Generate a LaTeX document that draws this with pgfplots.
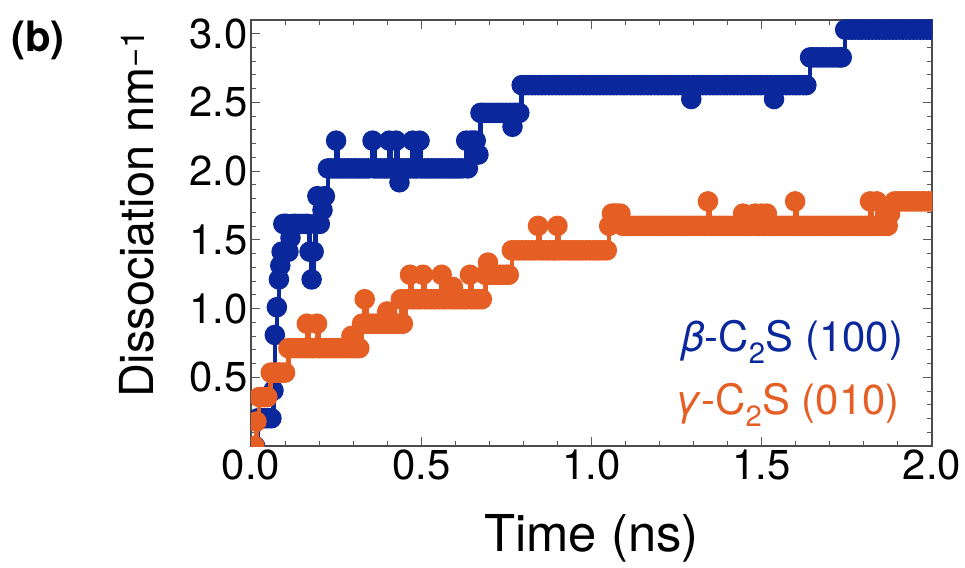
\documentclass[border=0pt]{standalone}
\usepackage{fontspec}
\setmainfont{TeX Gyre Heros}
\usepackage{pgfplots}
\pgfplotsset{compat=1.18}
\usepackage{pgfplotstable}
\definecolor{cblue}{RGB}{10,40,155}
\definecolor{corange}{RGB}{229,95,37}

\pgfplotstableread{
t v
0.012 0
0.020 0.202
0.030 0.202
0.040 0.202
0.050 0.202
0.060 0.202
0.066 0.404
0.070 0.808
0.076 1.010
0.082 1.212
0.086 1.313
0.090 1.414
0.095 1.616
0.100 1.616
0.105 1.616
0.110 1.414
0.116 1.515
0.122 1.616
0.130 1.616
0.140 1.616
0.150 1.616
0.160 1.616
0.166 1.616
0.172 1.414
0.178 1.212
0.184 1.414
0.190 1.616
0.195 1.818
0.202 1.616
0.210 1.717
0.217 1.818
0.226 2.020
0.235 2.020
0.245 2.020
0.250 2.222
0.255 2.020
0.265 2.020
0.275 2.020
0.285 2.020
0.295 2.020
0.305 2.020
0.315 2.020
0.325 2.020
0.335 2.020
0.345 2.020
0.357 2.222
0.362 2.020
0.372 2.020
0.382 2.020
0.392 2.020
0.400 2.020
0.406 2.222
0.411 2.020
0.418 2.020
0.426 2.222
0.431 2.020
0.436 1.919
0.441 2.020
0.450 2.020
0.460 2.020
0.468 2.020
0.475 2.222
0.480 2.020
0.488 2.020
0.495 2.222
0.500 2.020
0.510 2.020
0.520 2.020
0.530 2.020
0.540 2.020
0.550 2.020
0.560 2.020
0.570 2.020
0.580 2.020
0.590 2.020
0.600 2.020
0.610 2.020
0.620 2.020
0.632 2.222
0.637 2.020
0.645 2.222
0.652 2.222
0.660 2.222
0.668 2.121
0.674 2.424
0.680 2.424
0.690 2.424
0.700 2.424
0.710 2.424
0.720 2.424
0.730 2.424
0.740 2.424
0.750 2.424
0.760 2.424
0.768 2.323
0.773 2.424
0.780 2.424
0.788 2.424
0.795 2.626
0.805 2.626
0.815 2.626
0.825 2.626
0.835 2.626
0.845 2.626
0.855 2.626
0.865 2.626
0.875 2.626
0.885 2.626
0.895 2.626
0.905 2.626
0.915 2.626
0.925 2.626
0.935 2.626
0.945 2.626
0.955 2.626
0.965 2.626
0.975 2.626
0.985 2.626
0.995 2.626
1.005 2.626
1.015 2.626
1.025 2.626
1.035 2.626
1.045 2.626
1.055 2.626
1.065 2.626
1.075 2.626
1.085 2.626
1.095 2.626
1.105 2.626
1.115 2.626
1.125 2.626
1.135 2.626
1.145 2.626
1.155 2.626
1.165 2.626
1.175 2.626
1.185 2.626
1.195 2.626
1.205 2.626
1.215 2.626
1.225 2.626
1.235 2.626
1.245 2.626
1.255 2.626
1.265 2.626
1.275 2.626
1.285 2.626
1.293 2.525
1.298 2.626
1.308 2.626
1.318 2.626
1.328 2.626
1.338 2.626
1.348 2.626
1.358 2.626
1.368 2.626
1.378 2.626
1.388 2.626
1.398 2.626
1.408 2.626
1.418 2.626
1.428 2.626
1.438 2.626
1.448 2.626
1.458 2.626
1.468 2.626
1.478 2.626
1.488 2.626
1.498 2.626
1.508 2.626
1.518 2.626
1.528 2.626
1.536 2.525
1.541 2.626
1.551 2.626
1.561 2.626
1.571 2.626
1.581 2.626
1.591 2.626
1.601 2.626
1.611 2.626
1.621 2.626
1.631 2.626
1.642 2.828
1.650 2.828
1.660 2.828
1.670 2.828
1.680 2.828
1.690 2.828
1.700 2.828
1.710 2.828
1.720 2.828
1.730 2.828
1.735 2.828
1.745 3.030
1.755 3.030
1.765 3.030
1.775 3.030
1.785 3.030
1.795 3.030
1.805 3.030
1.815 3.030
1.825 3.030
1.835 3.030
1.845 3.030
1.855 3.030
1.865 3.030
1.875 3.030
1.885 3.030
1.895 3.030
1.905 3.030
1.915 3.030
1.925 3.030
1.935 3.030
1.945 3.030
1.955 3.030
1.965 3.030
1.975 3.030
1.985 3.030
1.995 3.030
2.000 3.030
}\blueT

\pgfplotstableread{
t v
0.010 0
0.016 0.178
0.024 0.356
0.032 0.356
0.040 0.356
0.048 0.356
0.058 0.534
0.066 0.534
0.074 0.534
0.082 0.534
0.090 0.534
0.100 0.534
0.110 0.712
0.118 0.712
0.128 0.712
0.138 0.712
0.148 0.712
0.158 0.712
0.164 0.890
0.169 0.712
0.178 0.712
0.186 0.712
0.194 0.890
0.199 0.712
0.209 0.712
0.219 0.712
0.229 0.712
0.239 0.712
0.249 0.712
0.259 0.712
0.269 0.712
0.279 0.712
0.289 0.712
0.295 0.801
0.300 0.712
0.310 0.712
0.318 0.712
0.326 0.890
0.334 1.068
0.339 0.890
0.348 0.890
0.358 0.890
0.368 0.890
0.378 0.890
0.388 0.890
0.394 0.890
0.400 0.979
0.405 0.890
0.414 0.890
0.423 0.890
0.432 0.890
0.440 1.068
0.446 0.890
0.455 1.068
0.462 1.068
0.467 1.246
0.472 1.068
0.480 1.068
0.490 1.068
0.498 1.068
0.505 1.246
0.510 1.068
0.520 1.068
0.530 1.068
0.540 1.068
0.552 1.068
0.560 1.246
0.565 1.068
0.575 1.068
0.585 1.068
0.593 1.157
0.598 1.068
0.608 1.068
0.618 1.068
0.628 1.068
0.636 1.068
0.643 1.246
0.648 1.068
0.658 1.068
0.668 1.068
0.678 1.068
0.688 1.246
0.696 1.335
0.701 1.246
0.711 1.246
0.721 1.246
0.731 1.246
0.741 1.246
0.751 1.246
0.757 1.246
0.766 1.424
0.776 1.424
0.786 1.424
0.796 1.424
0.806 1.424
0.816 1.424
0.826 1.424
0.836 1.424
0.843 1.602
0.848 1.424
0.858 1.424
0.868 1.424
0.878 1.424
0.888 1.424
0.894 1.424
0.900 1.602
0.905 1.424
0.915 1.424
0.925 1.424
0.935 1.424
0.945 1.424
0.955 1.424
0.965 1.424
0.975 1.424
0.985 1.424
0.995 1.424
1.005 1.424
1.015 1.424
1.025 1.424
1.035 1.424
1.045 1.424
1.052 1.602
1.060 1.691
1.068 1.691
1.076 1.691
1.085 1.691
1.092 1.602
1.102 1.602
1.112 1.602
1.122 1.602
1.132 1.602
1.142 1.602
1.152 1.602
1.162 1.602
1.172 1.602
1.182 1.602
1.192 1.602
1.202 1.602
1.212 1.602
1.222 1.602
1.232 1.602
1.242 1.602
1.252 1.602
1.262 1.602
1.272 1.602
1.282 1.602
1.292 1.602
1.302 1.602
1.312 1.602
1.322 1.602
1.332 1.602
1.342 1.780
1.347 1.602
1.357 1.602
1.367 1.602
1.377 1.602
1.387 1.602
1.397 1.602
1.407 1.602
1.417 1.602
1.427 1.602
1.437 1.602
1.445 1.691
1.450 1.602
1.460 1.602
1.470 1.602
1.480 1.691
1.485 1.602
1.492 1.602
1.500 1.691
1.505 1.602
1.510 1.602
1.515 1.691
1.520 1.602
1.530 1.602
1.540 1.602
1.550 1.602
1.560 1.602
1.570 1.602
1.580 1.602
1.590 1.602
1.598 1.780
1.603 1.602
1.613 1.602
1.623 1.602
1.633 1.602
1.643 1.602
1.653 1.602
1.663 1.602
1.673 1.602
1.683 1.602
1.693 1.602
1.703 1.602
1.713 1.602
1.723 1.602
1.733 1.602
1.743 1.602
1.753 1.602
1.763 1.602
1.773 1.602
1.783 1.602
1.793 1.602
1.803 1.602
1.810 1.602
1.818 1.780
1.823 1.602
1.830 1.602
1.838 1.780
1.843 1.602
1.852 1.602
1.862 1.602
1.870 1.602
1.877 1.691
1.890 1.780
1.900 1.780
1.910 1.780
1.920 1.780
1.930 1.780
1.940 1.780
1.950 1.780
1.960 1.780
1.970 1.780
1.980 1.780
1.990 1.780
2.000 1.780
}\orangeT

\begin{document}
\begin{tikzpicture}
\begin{axis}[
  name=ax,
  scale only axis,
  width=681bp, height=426bp,
  xmin=0, xmax=2, ymin=0, ymax=3.1,
  xtick={0,0.5,1,1.5,2},
  ytick={0.5,1,1.5,2,2.5,3},
  minor xtick={0.1,0.2,0.3,0.4,0.6,0.7,0.8,0.9,1.1,1.2,1.3,1.4,1.6,1.7,1.8,1.9},
  minor ytick={0.1,0.2,0.3,0.4,0.6,0.7,0.8,0.9,1.1,1.2,1.3,1.4,1.6,1.7,1.8,1.9,2.1,2.2,2.3,2.4,2.6,2.7,2.8,2.9},
  tick align=inside,
  major tick length=9bp, minor tick length=5bp,
  every tick/.style={black!65, line width=1bp},
  axis line style={black!70, line width=1.2bp},
  tick label style={font=\fontsize{42}{48}\selectfont},
  xticklabel style={/pgf/number format/.cd, fixed, fixed zerofill, precision=1, assume math mode=true},
  yticklabel style={/pgf/number format/.cd, fixed, fixed zerofill, precision=1, assume math mode=true},
  xlabel={Time (ns)},
  ylabel={Dissociation nm\textsuperscript{−1}},
  xlabel style={font=\fontsize{51}{60}\selectfont, at={(axis description cs:0.5,-0.216)}, anchor=center},
  ylabel style={font=\fontsize{47}{56}\selectfont, at={(axis description cs:-0.167,0.545)}, anchor=center},
  clip marker paths=true,
]
\addplot[const plot, cblue, line width=4.5bp, mark=*, mark size=8bp, mark options={draw=none, fill=cblue}] table[x=t, y=v] {\blueT};
\addplot[const plot, corange, line width=4.5bp, mark=*, mark size=8bp, mark options={draw=none, fill=corange}] table[x=t, y=v] {\orangeT};
\node[anchor=east, text=cblue, font=\fontsize{42}{48}\selectfont] at (axis cs:1.925,0.757) {\textit{β}-C\textsubscript{2}S (100)};
\node[anchor=east, text=corange, font=\fontsize{42}{48}\selectfont] at (axis cs:1.915,0.30) {\textit{γ}-C\textsubscript{2}S (010)};
\end{axis}
\node[font=\bfseries\fontsize{42}{48}\selectfont] at ([shift={(-213bp,-20bp)}]ax.north west) {(b)};
\pgfresetboundingbox
\path[use as bounding box] ([shift={(-251bp,-122bp)}]ax.south west) rectangle ([shift={(714bp,446bp)}]ax.south west);
\end{tikzpicture}
\end{document}
